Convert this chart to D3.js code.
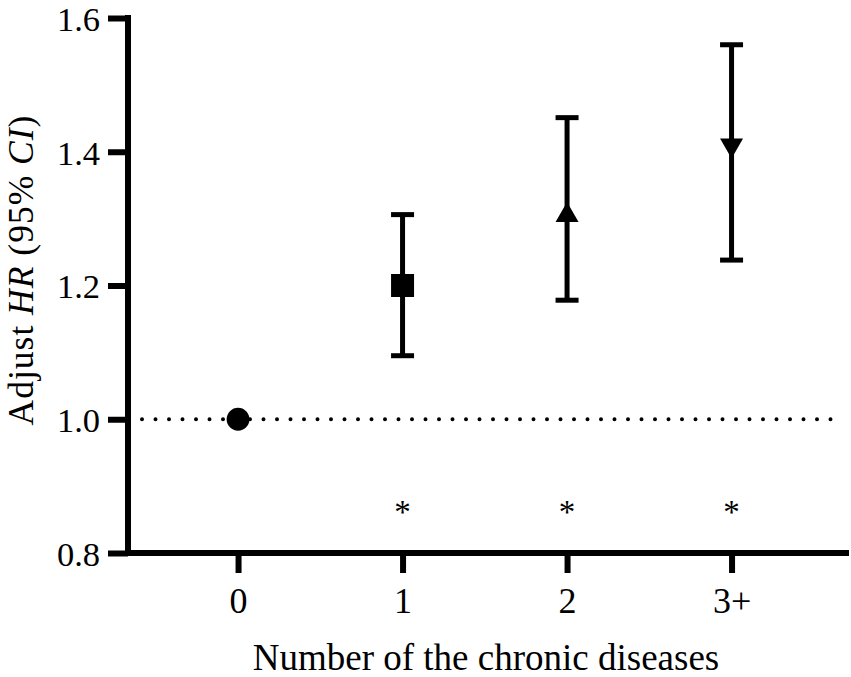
<!DOCTYPE html>
<html>
<head>
<meta charset="utf-8">
<script src="https://cdn.jsdelivr.net/npm/d3@7"></script>
<style>
  html, body { margin: 0; padding: 0; background: #fff; }
  svg { display: block; }
  text { font-family: "Liberation Serif", "Times New Roman", serif; fill: #000; }
</style>
</head>
<body>
<svg id="chart" width="851" height="677"></svg>
<script>
// ---- data ----
const categories = ["0", "1", "2", "3+"];
const hrValues   = [1.00, 1.20, 1.31, 1.405];
const ciLower    = [null, 1.095, 1.178, 1.238];
const ciUpper    = [null, 1.306, 1.451, 1.56];
const symbolKinds = ["circle", "square", "triangle", "triangleDown"];
const sigMarks   = ["", "*", "*", "*"];
const yTicks     = [0.8, 1.0, 1.2, 1.4, 1.6];
const referenceHR = 1.0;
const sigLevel   = 0.865;

const svg = d3.select("#chart");

const x = d3.scaleLinear().domain([-0.669, 3.72]).range([128, 850]);
const y = d3.scaleLinear().domain([0.8, 1.6]).range([553, 18]);

const AXW = 6;

// y axis
const yAxis = d3.axisLeft(y).tickValues(yTicks).tickFormat(d3.format(".1f"))
  .tickSize(20).tickSizeOuter(0).tickPadding(8);
const gy = svg.append("g").attr("transform", `translate(${x.range()[0]},0)`).call(yAxis);
gy.select(".domain").remove();
gy.selectAll(".tick line").attr("stroke", "#000").attr("stroke-width", AXW);
gy.selectAll(".tick text").attr("font-size", 34.5).attr("dy", "0.36em")
  .attr("font-family", "Liberation Serif");
gy.append("line").attr("x1", 0).attr("x2", 0)
  .attr("y1", y(1.6) - AXW / 2).attr("y2", y(0.8) + AXW / 2)
  .attr("stroke", "#000").attr("stroke-width", AXW);

// x axis
const xAxis = d3.axisBottom(x).tickValues(d3.range(categories.length))
  .tickFormat(i => categories[i]).tickSize(20).tickSizeOuter(0).tickPadding(14.5);
const gx = svg.append("g").attr("transform", `translate(0,${y(0.8)})`).call(xAxis);
gx.select(".domain").remove();
gx.selectAll(".tick line").attr("stroke", "#000").attr("stroke-width", AXW);
gx.selectAll(".tick text").attr("font-size", 36).attr("font-family", "Liberation Serif");
gx.append("line").attr("x1", x.range()[0] - AXW / 2).attr("x2", x.range()[1] - 1)
  .attr("y1", 0).attr("y2", 0)
  .attr("stroke", "#000").attr("stroke-width", AXW);

// reference dotted line
svg.append("line")
  .attr("x1", x.range()[0] + 14).attr("x2", x.range()[1] - 10)
  .attr("y1", y(referenceHR)).attr("y2", y(referenceHR))
  .attr("stroke", "#000").attr("stroke-width", 4)
  .attr("stroke-linecap", "round").attr("stroke-dasharray", "0 13.5");

// error bars
const capHalf = 11.5;
const data = categories.map((c, i) => ({ i, c, hr: hrValues[i], lo: ciLower[i], hi: ciUpper[i], sym: symbolKinds[i], sig: sigMarks[i] }));
const eb = svg.append("g").attr("stroke", "#000").attr("stroke-width", 5);
data.filter(d => d.lo != null).forEach(d => {
  const cx = x(d.i);
  eb.append("line").attr("x1", cx).attr("x2", cx).attr("y1", y(d.hi)).attr("y2", y(d.lo));
  eb.append("line").attr("x1", cx - capHalf).attr("x2", cx + capHalf).attr("y1", y(d.hi)).attr("y2", y(d.hi));
  eb.append("line").attr("x1", cx - capHalf).attr("x2", cx + capHalf).attr("y1", y(d.lo)).attr("y2", y(d.lo));
});

// symbols
function symbolPath(kind) {
  const r = 11.4, s = 11.5, tw = 11.5, th = 10;
  switch (kind) {
    case "circle": return `M${-r},0A${r},${r} 0 1,0 ${r},0A${r},${r} 0 1,0 ${-r},0Z`;
    case "square": return `M${-s},${-s}H${s}V${s}H${-s}Z`;
    case "triangle": return `M0,${-th}L${tw},${th}L${-tw},${th}Z`;
    case "triangleDown": return `M0,${th}L${tw},${-th}L${-tw},${-th}Z`;
  }
}
svg.append("g").selectAll("path.pt").data(data).join("path")
  .attr("class", "pt")
  .attr("d", d => symbolPath(d.sym))
  .attr("transform", d => `translate(${x(d.i)},${y(d.hr)})`)
  .attr("fill", "#000");

// significance asterisks
svg.append("g").selectAll("text.sig").data(data.filter(d => d.sig)).join("text")
  .attr("class", "sig")
  .attr("x", d => x(d.i)).attr("y", y(sigLevel) + 13)
  .attr("text-anchor", "middle").attr("font-size", 33)
  .text(d => d.sig);

// axis titles
svg.append("text")
  .attr("x", 486).attr("y", 670)
  .attr("text-anchor", "middle").attr("font-size", 37)
  .text("Number of the chronic diseases");

const yt = svg.append("text")
  .attr("transform", "translate(33,270) rotate(-90)")
  .attr("text-anchor", "middle").attr("font-size", 35.5)
  .attr("letter-spacing", 1);
yt.append("tspan").text("Adjust ");
yt.append("tspan").attr("font-style", "italic").text("HR");
yt.append("tspan").text(" (95% ");
yt.append("tspan").attr("font-style", "italic").text("CI");
yt.append("tspan").text(")");
</script>
</body>
</html>
